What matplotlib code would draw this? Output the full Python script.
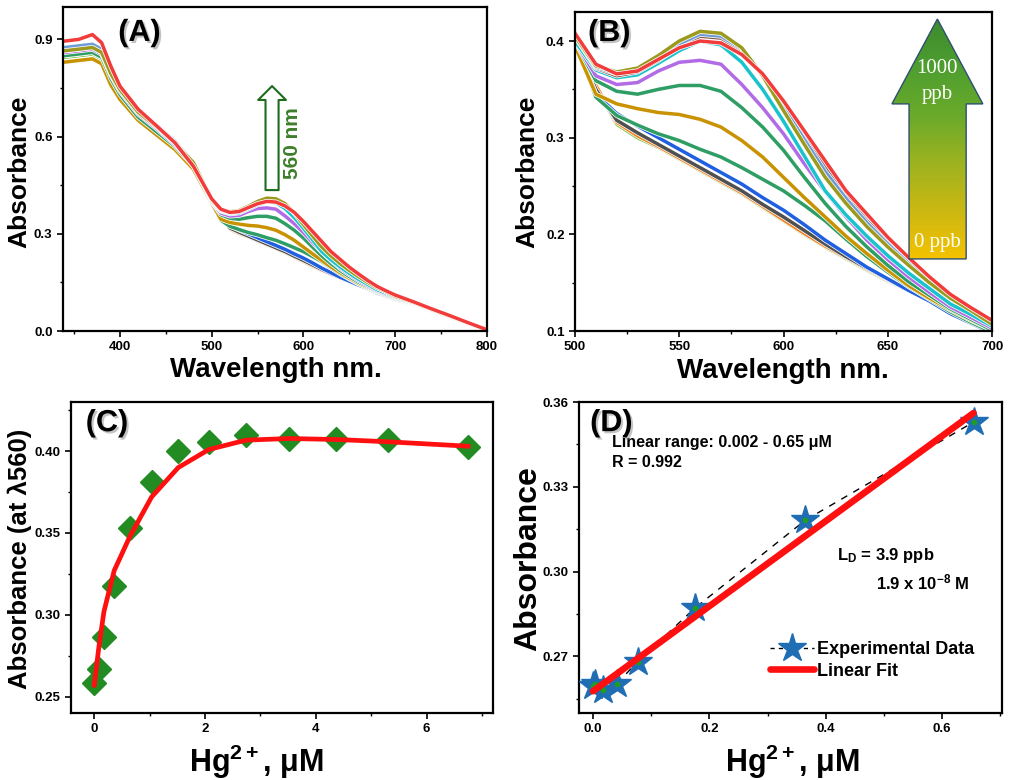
import numpy as np
import matplotlib
matplotlib.use('Agg')
import matplotlib.pyplot as plt
import matplotlib.patheffects as pe
from matplotlib.patches import Polygon
from matplotlib.colors import LinearSegmentedColormap
from matplotlib.lines import Line2D
from matplotlib.ticker import MultipleLocator

plt.rcParams['font.family'] = ['Liberation Sans', 'DejaVu Sans']
plt.rcParams['font.weight'] = 'bold'
plt.rcParams['mathtext.fontset'] = 'custom'
plt.rcParams['mathtext.rm'] = 'Liberation Sans:bold'
plt.rcParams['mathtext.bf'] = 'Liberation Sans:bold'
plt.rcParams['mathtext.it'] = 'Liberation Sans:italic:bold'

# ---- Data: UV-vis spectra (panels A and B share the same curves) ----
wavelength = [340, 355, 370, 380, 390, 400, 420, 440, 460, 480, 500, 510, 520, 530,
              540, 550, 560, 570, 580, 590, 600, 610, 620, 630, 640, 650, 660, 670,
              680, 690, 700, 720, 740, 760, 780, 800]

spec_01 = [0.845, 0.850, 0.855, 0.840, 0.775, 0.725, 0.655, 0.610, 0.565, 0.500, 0.400, 0.352, 0.314, 0.300,
           0.290, 0.278, 0.266, 0.254, 0.242, 0.228, 0.214, 0.200, 0.187, 0.175, 0.163, 0.152, 0.142, 0.132,
           0.122, 0.111, 0.099, 0.083, 0.062, 0.042, 0.022, 0.002]
spec_02 = [0.860, 0.865, 0.870, 0.850, 0.785, 0.730, 0.660, 0.615, 0.570, 0.505, 0.400, 0.354, 0.316, 0.302,
           0.291, 0.279, 0.267, 0.255, 0.243, 0.229, 0.215, 0.201, 0.188, 0.176, 0.164, 0.153, 0.143, 0.133,
           0.123, 0.112, 0.100, 0.084, 0.063, 0.043, 0.023, 0.003]
spec_03 = [0.855, 0.860, 0.865, 0.850, 0.780, 0.730, 0.660, 0.615, 0.570, 0.510, 0.400, 0.350, 0.318, 0.305,
           0.293, 0.281, 0.269, 0.257, 0.245, 0.231, 0.218, 0.204, 0.190, 0.177, 0.165, 0.154, 0.143, 0.133,
           0.122, 0.110, 0.097, 0.083, 0.062, 0.042, 0.022, 0.002]
spec_04 = [0.855, 0.860, 0.865, 0.850, 0.785, 0.735, 0.665, 0.620, 0.575, 0.510, 0.400, 0.345, 0.325, 0.312,
           0.300, 0.288, 0.276, 0.264, 0.252, 0.238, 0.225, 0.210, 0.194, 0.180, 0.166, 0.154, 0.142, 0.131,
           0.118, 0.108, 0.098, 0.083, 0.062, 0.042, 0.022, 0.002]
spec_05 = [0.850, 0.855, 0.860, 0.845, 0.780, 0.730, 0.660, 0.615, 0.570, 0.510, 0.400, 0.342, 0.323, 0.313,
           0.304, 0.297, 0.288, 0.280, 0.269, 0.257, 0.245, 0.230, 0.214, 0.195, 0.177, 0.161, 0.146, 0.133,
           0.120, 0.109, 0.099, 0.084, 0.063, 0.043, 0.023, 0.003]
spec_06 = [0.830, 0.835, 0.840, 0.825, 0.760, 0.715, 0.650, 0.605, 0.560, 0.500, 0.395, 0.345, 0.335, 0.330,
           0.326, 0.324, 0.319, 0.311, 0.297, 0.280, 0.259, 0.238, 0.218, 0.198, 0.180, 0.163, 0.147, 0.134,
           0.122, 0.111, 0.101, 0.085, 0.064, 0.044, 0.023, 0.003]
spec_07 = [0.850, 0.855, 0.860, 0.845, 0.780, 0.730, 0.660, 0.615, 0.570, 0.510, 0.400, 0.359, 0.348, 0.345,
           0.350, 0.354, 0.354, 0.348, 0.331, 0.311, 0.287, 0.259, 0.232, 0.208, 0.187, 0.168, 0.151, 0.137,
           0.123, 0.112, 0.101, 0.085, 0.064, 0.044, 0.023, 0.003]
spec_08 = [0.860, 0.865, 0.870, 0.855, 0.790, 0.740, 0.670, 0.625, 0.575, 0.515, 0.400, 0.364, 0.355, 0.357,
           0.369, 0.378, 0.380, 0.376, 0.355, 0.331, 0.304, 0.273, 0.244, 0.218, 0.194, 0.174, 0.156, 0.140,
           0.125, 0.114, 0.103, 0.086, 0.065, 0.045, 0.024, 0.003]
spec_09 = [0.865, 0.870, 0.875, 0.860, 0.795, 0.745, 0.675, 0.630, 0.580, 0.520, 0.400, 0.370, 0.362, 0.365,
           0.377, 0.390, 0.400, 0.396, 0.378, 0.350, 0.317, 0.281, 0.245, 0.220, 0.198, 0.178, 0.160, 0.144,
           0.128, 0.117, 0.105, 0.087, 0.066, 0.045, 0.024, 0.003]
spec_10 = [0.870, 0.875, 0.880, 0.865, 0.800, 0.750, 0.680, 0.635, 0.585, 0.520, 0.405, 0.372, 0.364, 0.368,
           0.380, 0.394, 0.405, 0.403, 0.390, 0.366, 0.335, 0.302, 0.269, 0.240, 0.214, 0.193, 0.172, 0.154,
           0.136, 0.123, 0.109, 0.089, 0.067, 0.046, 0.024, 0.003]
spec_11 = [0.875, 0.880, 0.885, 0.870, 0.800, 0.750, 0.680, 0.635, 0.585, 0.520, 0.405, 0.373, 0.366, 0.370,
           0.382, 0.397, 0.407, 0.405, 0.392, 0.366, 0.332, 0.298, 0.265, 0.237, 0.212, 0.190, 0.170, 0.152,
           0.135, 0.122, 0.108, 0.089, 0.067, 0.046, 0.024, 0.003]
spec_12 = [0.865, 0.870, 0.875, 0.860, 0.795, 0.745, 0.675, 0.630, 0.580, 0.520, 0.405, 0.374, 0.368, 0.372,
           0.385, 0.400, 0.410, 0.408, 0.393, 0.364, 0.328, 0.293, 0.259, 0.232, 0.208, 0.187, 0.168, 0.150,
           0.134, 0.121, 0.107, 0.088, 0.066, 0.045, 0.024, 0.003]
spec_13 = [0.895, 0.900, 0.915, 0.890, 0.818, 0.756, 0.684, 0.633, 0.581, 0.509, 0.408, 0.376, 0.366, 0.369,
           0.381, 0.393, 0.400, 0.398, 0.386, 0.366, 0.338, 0.307, 0.276, 0.245, 0.221, 0.197, 0.176, 0.156,
           0.138, 0.124, 0.111, 0.090, 0.068, 0.047, 0.025, 0.004]

spectra = [spec_01, spec_02, spec_03, spec_04, spec_05, spec_06, spec_07,
           spec_08, spec_09, spec_10, spec_11, spec_12, spec_13]
spec_colors = ['#7AC143', '#F07F1E', '#505050', '#1F5FE0', '#2E9E64', '#C99200', '#2E9E64',
               '#B26BE6', '#19C3CC', '#8C564B', '#6D9BD6', '#9C9A1E', '#F23B3B']

# ---- Data: panel C (absorbance at 560 nm vs Hg2+) ----
hg_conc = [0.0, 0.084, 0.175, 0.36, 0.645, 1.036, 1.518, 2.07, 2.74, 3.51, 4.37, 5.31, 6.75]
abs_560 = [0.2585, 0.267, 0.2866, 0.3176, 0.353, 0.381, 0.400, 0.4057, 0.410, 0.4077, 0.4071, 0.4067, 0.4026]
abs_560_fit = [0.257, 0.2805, 0.302, 0.327, 0.348, 0.372, 0.390, 0.401, 0.4067, 0.4077, 0.4071, 0.4057, 0.403]

# ---- Data: panel D (linear range) ----
lin_conc = [0.0, 0.003, 0.018, 0.041, 0.077, 0.175, 0.365, 0.654]
lin_abs = [0.2597, 0.2604, 0.2582, 0.2604, 0.2682, 0.2871, 0.3182, 0.3529]
fit_conc = [0.0, 0.654]
fit_abs = [0.2577, 0.3561]

# ---- Figure ----
fig = plt.figure(figsize=(10.1, 7.8), dpi=100)
axA = fig.add_axes([0.0624, 0.5756, 0.4198, 0.4154])
axB = fig.add_axes([0.5693, 0.5756, 0.4129, 0.4090])
axC = fig.add_axes([0.0703, 0.0859, 0.4178, 0.3987])
axD = fig.add_axes([0.5733, 0.0859, 0.4188, 0.3987])


def style_axis(ax):
    for s in ax.spines.values():
        s.set_linewidth(1.6)
    ax.tick_params(which='major', direction='out', length=4, width=1.2, labelsize=9.5)
    ax.tick_params(which='minor', direction='out', length=2.5, width=1.0)


def panel_label(ax, x, y, txt):
    ax.text(x, y, txt, transform=ax.transAxes, fontsize=22, fontweight='bold',
            ha='center', va='center', zorder=10,
            path_effects=[pe.withSimplePatchShadow(offset=(1.5, -1.5), shadow_rgbFace='#888888', alpha=0.5)])


halo = [pe.Stroke(linewidth=3.6, foreground='white'), pe.Normal()]

# Panel A and B: the spectra
for ax in (axA, axB):
    for vals, col in zip(spectra, spec_colors):
        ax.plot(wavelength, vals, color=col, lw=2.5, path_effects=halo)
    style_axis(ax)
    ax.set_xlabel('Wavelength nm.', fontsize=20, fontweight='bold')
    ax.set_ylabel('Absorbance', fontsize=19, fontweight='bold')

axA.set_xlim(338, 800)
axA.set_ylim(0, 1.0)
axA.xaxis.set_major_locator(MultipleLocator(100))
axA.xaxis.set_minor_locator(MultipleLocator(50))
axA.yaxis.set_major_locator(MultipleLocator(0.3))
axA.yaxis.set_minor_locator(MultipleLocator(0.15))
axA.xaxis.set_label_coords(0.502, -0.08)
axA.yaxis.set_label_coords(-0.075, 0.49)
panel_label(axA, 0.18, 0.92, '(A)')

# hollow arrow with "560 nm"
axA.annotate('', xy=(0.493, 0.756), xytext=(0.493, 0.435), xycoords='axes fraction',
             arrowprops=dict(arrowstyle='simple,head_length=0.5,head_width=1.0,tail_width=0.47',
                             mutation_scale=20, fc='white', ec='#1E6B1E', lw=1.5,
                             shrinkA=0, shrinkB=0))
axA.text(0.542, 0.58, '560 nm', rotation=90, color='#3C7F2A', fontsize=15, fontweight='bold',
         transform=axA.transAxes, ha='center', va='center')

axB.xaxis.set_major_locator(MultipleLocator(50))
axB.xaxis.set_minor_locator(MultipleLocator(25))
axB.yaxis.set_major_locator(MultipleLocator(0.1))
axB.yaxis.set_minor_locator(MultipleLocator(0.05))
axB.xaxis.set_label_coords(0.499, -0.085)
axB.yaxis.set_label_coords(-0.086, 0.498)
panel_label(axB, 0.082, 0.934, '(B)')

# gradient arrow 0 -> 1000 ppb
arrow_pts = [(0.801, 0.226), (0.938, 0.226), (0.938, 0.712), (0.978, 0.712),
             (0.869, 0.978), (0.760, 0.712), (0.801, 0.712)]
arrow_poly = Polygon(arrow_pts, closed=True, transform=axB.transAxes, fc='none',
                     ec='#2F4F6F', lw=1.0, zorder=6)
axB.add_patch(arrow_poly)
grad_cmap = LinearSegmentedColormap.from_list(
    'ppb', ['#F5C200', '#CBB812', '#9DB320', '#6AAA2A', '#4E9E30', '#3E8A2E'])
grad = np.linspace(0, 1, 256).reshape(-1, 1)
im = axB.imshow(grad, extent=[0.76, 0.978, 0.226, 0.978], transform=axB.transAxes,
                aspect='auto', origin='lower', cmap=grad_cmap, zorder=5)
im.set_clip_path(arrow_poly)
for txt, yy in (('1000', 0.824), ('ppb', 0.743), ('0 ppb', 0.279)):
    axB.text(0.869, yy, txt, transform=axB.transAxes, color='white', fontsize=15,
             fontweight='normal', family='Liberation Serif', ha='center', va='center', zorder=7)
axB.set_xlim(500, 700)
axB.set_ylim(0.1, 0.43)

# Panel C
axC.plot(hg_conc, abs_560, linestyle='none', marker='D', ms=12, color='#228B22', zorder=3)
axC.plot(hg_conc, abs_560_fit, color='#FF1010', lw=3.4, zorder=4)
style_axis(axC)
axC.set_xlim(-0.42, 7.2)
axC.set_ylim(0.24, 0.43)
axC.xaxis.set_major_locator(MultipleLocator(2))
axC.xaxis.set_minor_locator(MultipleLocator(1))
axC.yaxis.set_major_locator(MultipleLocator(0.05))
axC.yaxis.set_minor_locator(MultipleLocator(0.025))
axC.yaxis.set_major_formatter(plt.FormatStrFormatter('%.2f'))
axC.set_xlabel(r'Hg$^{\mathbf{2+}}$, μM', fontsize=22, fontweight='bold')
axC.set_ylabel('Absorbance (at λ560)', fontsize=18.5, fontweight='bold')
axC.xaxis.set_label_coords(0.44, -0.096)
axC.yaxis.set_label_coords(-0.092, 0.495)
panel_label(axC, 0.085, 0.932, '(C)')

# Panel D
star_style = dict(marker='*', ms=21, mfc='#1F6EB4', mec='#1F6EB4', mew=1.0)
axD.plot(lin_conc, lin_abs, color='black', lw=1.0, linestyle=(0, (5, 5)), zorder=3, **star_style)
axD.plot(lin_conc, lin_abs, linestyle='none', marker='o', ms=3, color='#1E9E1E', zorder=3)
axD.plot(fit_conc, fit_abs, color='#FF1010', lw=4.8, solid_capstyle='round', zorder=4)
style_axis(axD)
axD.set_xlim(-0.024, 0.703)
axD.set_ylim(0.25, 0.36)
axD.xaxis.set_major_locator(MultipleLocator(0.2))
axD.xaxis.set_minor_locator(MultipleLocator(0.1))
axD.yaxis.set_major_locator(MultipleLocator(0.03))
axD.yaxis.set_minor_locator(MultipleLocator(0.015))
axD.yaxis.set_major_formatter(plt.FormatStrFormatter('%.2f'))
axD.set_xlabel(r'Hg$^{\mathbf{2+}}$, μM', fontsize=22, fontweight='bold')
axD.set_ylabel('Absorbance', fontsize=23, fontweight='bold')
axD.xaxis.set_label_coords(0.504, -0.096)
axD.yaxis.set_label_coords(-0.085, 0.495)
panel_label(axD, 0.076, 0.932, '(D)')

axD.text(0.078, 0.871, 'Linear range: 0.002 - 0.65 μM', transform=axD.transAxes,
         fontsize=11.5, fontweight='bold', va='center')
axD.text(0.078, 0.807, 'R = 0.992', transform=axD.transAxes, fontsize=11.5,
         fontweight='bold', va='center')
axD.text(0.61, 0.505, r'L$_{\mathbf{D}}$ = 3.9 ppb', transform=axD.transAxes, fontsize=12,
         fontweight='bold', va='center')
axD.text(0.702, 0.421, r'1.9 x 10$^{\mathbf{-8}}$ M', transform=axD.transAxes, fontsize=12,
         fontweight='bold', va='center')

handles = [Line2D([], [], color='black', lw=1.0, linestyle=(0, (3, 3)), **star_style),
           Line2D([], [], color='#FF1010', lw=4.8, solid_capstyle='round')]
axD.legend(handles, ['Experimental Data', 'Linear Fit'], loc='center left',
           bbox_to_anchor=(0.452, 0.169), frameon=False, borderpad=0,
           borderaxespad=0, handlelength=2.4, handletextpad=0.2, labelspacing=0.25,
           numpoints=1, prop={'weight': 'bold', 'size': 13})

fig.savefig('out.png', dpi=100)
